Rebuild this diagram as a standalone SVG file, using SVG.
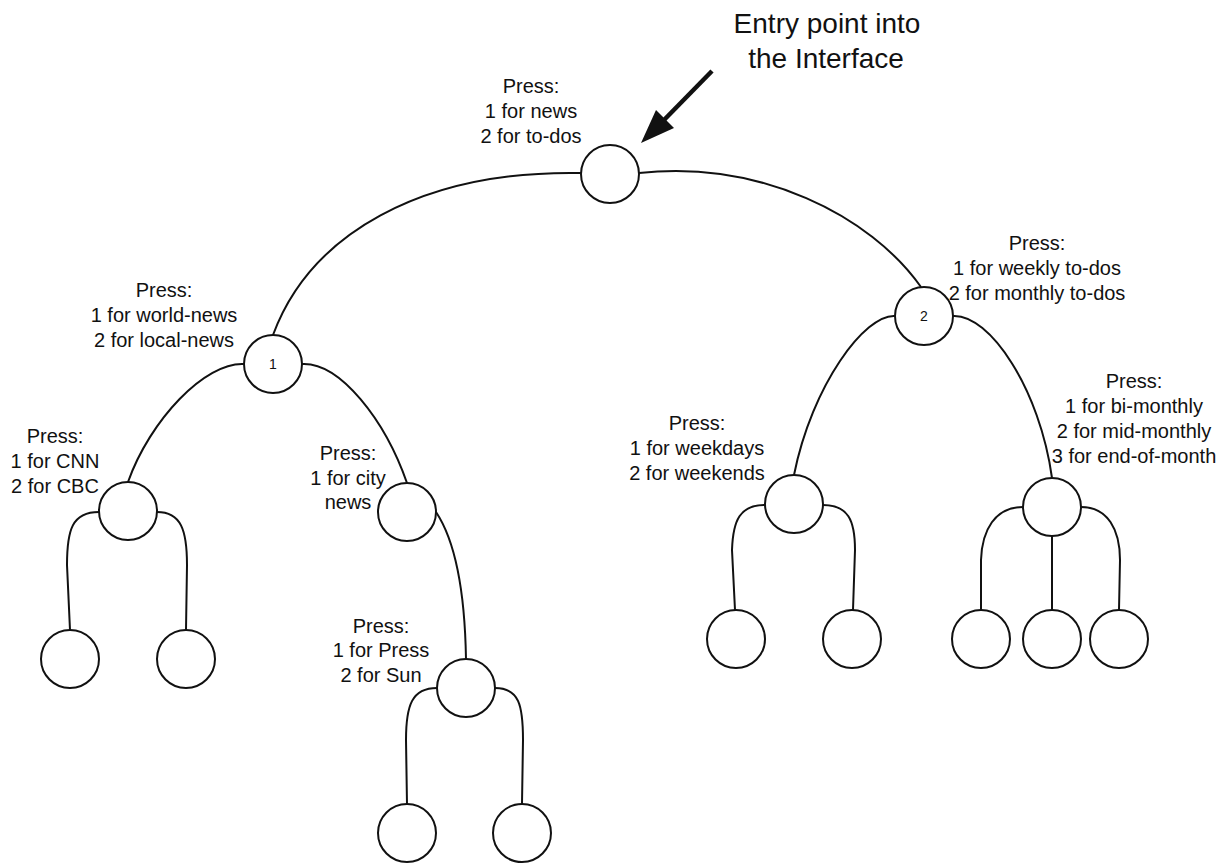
<svg xmlns="http://www.w3.org/2000/svg" width="1229" height="863" viewBox="0 0 1229 863">
  <style>
    .node circle { fill: #fff; stroke: #111; stroke-width: 2; }
    .edge { fill: none; stroke: #111; stroke-width: 2; }
    text { font-family: "Liberation Sans", Arial, Helvetica, sans-serif; fill: #111; }
    .lbl { font-size: 20px; text-anchor: middle; }
    .num { font-size: 14px; text-anchor: middle; }
    .title { font-size: 28px; text-anchor: middle; }
  </style>

  <rect width="1229" height="863" fill="#fff"/>

  <!-- callout for the entry point -->
  <g id="entry-callout">
    <text class="title" x="827" y="33">Entry point into</text>
    <text class="title" x="826" y="68">the Interface</text>
    <line x1="712" y1="71" x2="664" y2="120" stroke="#111" stroke-width="4.5"/>
    <polygon points="641,143 656,110 674,128" fill="#111"/>
  </g>

  <!-- connectors -->
  <g id="connectors">
    <path class="edge" d="M581,173 C420,170 310,235 273,335"/>
    <path class="edge" d="M639,173 C760,160 870,215 921,287"/>
    <path class="edge" d="M244,364 C205,362 150,420 128,482"/>
    <path class="edge" d="M302,364 C340,362 385,420 407,483"/>
    <path class="edge" d="M99,512 C72,512 67,530 67,565 L70,630"/>
    <path class="edge" d="M157,512 C181,512 187,530 187,565 L186,630"/>
    <path class="edge" d="M436,512 C458,545 465,600 466,659"/>
    <path class="edge" d="M437,688 C412,688 406,705 406,740 L407,804"/>
    <path class="edge" d="M495,688 C519,688 523,705 523,740 L522,804"/>
    <path class="edge" d="M895,316 C865,314 812,385 794,475"/>
    <path class="edge" d="M953,316 C990,314 1040,390 1052,478"/>
    <path class="edge" d="M765,505 C740,505 733,520 732,550 L735,610"/>
    <path class="edge" d="M823,505 C848,505 855,520 855,550 L853,610"/>
    <path class="edge" d="M1023,507 C995,507 982,530 981,560 L981,610"/>
    <path class="edge" d="M1052,536 L1052,610"/>
    <path class="edge" d="M1081,507 C1108,507 1120,530 1120,560 L1119,610"/>
  </g>

  <!-- menu nodes -->
  <g id="root" class="node">
    <circle cx="610" cy="174" r="29"/>
    <text class="lbl"><tspan x="531" y="93">Press:</tspan><tspan x="531" y="118">1 for news</tspan><tspan x="531" y="143">2 for to-dos</tspan></text>
  </g>

  <g id="news" class="node">
    <circle cx="273" cy="364" r="29"/>
    <text class="num" x="273" y="369">1</text>
    <text class="lbl"><tspan x="164" y="297">Press:</tspan><tspan x="164" y="322">1 for world-news</tspan><tspan x="164" y="347">2 for local-news</tspan></text>
  </g>

  <g id="todos" class="node">
    <circle cx="924" cy="316" r="29"/>
    <text class="num" x="924" y="321">2</text>
    <text class="lbl"><tspan x="1037" y="250">Press:</tspan><tspan x="1037" y="275">1 for weekly to-dos</tspan><tspan x="1037" y="300">2 for monthly to-dos</tspan></text>
  </g>

  <g id="world-news" class="node">
    <circle cx="128" cy="511" r="29"/>
    <text class="lbl"><tspan x="55" y="443">Press:</tspan><tspan x="55" y="468">1 for CNN</tspan><tspan x="55" y="493">2 for CBC</tspan></text>
  </g>

  <g id="local-news" class="node">
    <circle cx="407" cy="512" r="29"/>
    <text class="lbl"><tspan x="348" y="460">Press:</tspan><tspan x="348" y="485">1 for city</tspan><tspan x="348" y="509">news</tspan></text>
  </g>

  <g id="cnn" class="node"><circle cx="70" cy="659" r="29"/></g>
  <g id="cbc" class="node"><circle cx="186" cy="659" r="29"/></g>

  <g id="city-news" class="node">
    <circle cx="466" cy="688" r="29"/>
    <text class="lbl"><tspan x="381" y="633">Press:</tspan><tspan x="381" y="657">1 for Press</tspan><tspan x="381" y="682">2 for Sun</tspan></text>
  </g>

  <g id="press" class="node"><circle cx="407" cy="833" r="29"/></g>
  <g id="sun" class="node"><circle cx="522" cy="833" r="29"/></g>

  <g id="weekly" class="node">
    <circle cx="794" cy="504" r="29"/>
    <text class="lbl"><tspan x="697" y="430">Press:</tspan><tspan x="697" y="455">1 for weekdays</tspan><tspan x="697" y="480">2 for weekends</tspan></text>
  </g>

  <g id="weekdays" class="node"><circle cx="736" cy="639" r="29"/></g>
  <g id="weekends" class="node"><circle cx="852" cy="639" r="29"/></g>

  <g id="monthly" class="node">
    <circle cx="1052" cy="507" r="29"/>
    <text class="lbl"><tspan x="1134" y="388">Press:</tspan><tspan x="1134" y="413">1 for bi-monthly</tspan><tspan x="1134" y="438">2 for mid-monthly</tspan><tspan x="1134" y="463">3 for end-of-month</tspan></text>
  </g>

  <g id="bi-monthly" class="node"><circle cx="981" cy="639" r="29"/></g>
  <g id="mid-monthly" class="node"><circle cx="1052" cy="639" r="29"/></g>
  <g id="end-of-month" class="node"><circle cx="1119" cy="639" r="29"/></g>
</svg>
